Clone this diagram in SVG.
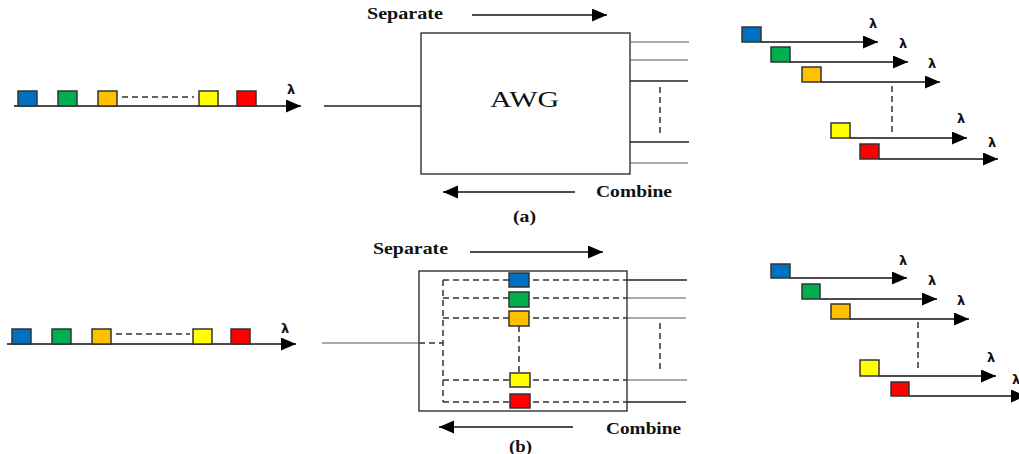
<svg xmlns="http://www.w3.org/2000/svg" width="1019" height="454" viewBox="0 0 1019 454">
<style>
.ln{stroke:#222;stroke-width:1.3;fill:none}
.gl{stroke:#555;stroke-width:1.2;fill:none}
.ds{stroke:#333;stroke-width:1.5;stroke-dasharray:6,4;fill:none}
.ar{stroke:#111;stroke-width:1.3;fill:none;marker-end:url(#ah)}
.box{fill:#fff;stroke:#222;stroke-width:1.3}
.sq{stroke:#333;stroke-width:1.5}
.b{fill:#0070C0}.g{fill:#00B050}.o{fill:#FFC000}.y{fill:#FFFF00}.r{fill:#FF0000}
.lab{font-family:"Liberation Serif",serif;font-weight:bold;font-size:16px;fill:#111}
.lam{font-family:"DejaVu Sans",sans-serif;font-weight:bold;font-size:13px;fill:#111}
.awg{font-family:"Liberation Serif",serif;font-size:23px;fill:#111}
</style>
<defs>
<marker id="ah" markerUnits="userSpaceOnUse" markerWidth="16" markerHeight="14" refX="15" refY="6.5" orient="auto">
<path d="M0,0 L15,6.5 L0,13 Z" fill="#000"/>
</marker>
</defs>

<!-- (a) -->
<g id="a-input-spectrum">
<line class="ar" x1="14" y1="106" x2="301" y2="106"/>
<rect class="sq b" x="18" y="91" width="19" height="15"/>
<rect class="sq g" x="58" y="91" width="19" height="15"/>
<rect class="sq o" x="98" y="91" width="19" height="15"/>
<line class="ds" x1="122" y1="97" x2="194" y2="97"/>
<rect class="sq y" x="199" y="91" width="19" height="15"/>
<rect class="sq r" x="237" y="91" width="19" height="15"/>
<text class="lam" x="291" y="94" text-anchor="middle">λ</text>
</g>

<g id="a-awg">
<rect class="box" x="421" y="33" width="209" height="141"/>
<text class="awg" x="490" y="107" textLength="69" lengthAdjust="spacingAndGlyphs">AWG</text>
</g>

<g id="a-labels">
<text class="lab" x="367" y="19" textLength="76" lengthAdjust="spacingAndGlyphs">Separate</text>
<text class="lab" x="596" y="197" textLength="76" lengthAdjust="spacingAndGlyphs">Combine</text>
<text class="lab" x="513" y="222" textLength="23" lengthAdjust="spacingAndGlyphs">(a)</text>
</g>

<g id="a-output-spectra">
<rect class="sq b" x="742" y="27" width="19" height="15"/>
<rect class="sq g" x="771" y="47" width="19" height="15"/>
<rect class="sq o" x="802" y="67" width="19" height="15"/>
<rect class="sq y" x="831" y="123" width="19" height="15"/>
<rect class="sq r" x="860" y="144" width="19" height="15"/>
<text class="lam" x="873" y="28" text-anchor="middle">λ</text>
<text class="lam" x="903" y="48" text-anchor="middle">λ</text>
<text class="lam" x="932" y="68" text-anchor="middle">λ</text>
<text class="lam" x="961" y="123" text-anchor="middle">λ</text>
<text class="lam" x="992" y="147" text-anchor="middle">λ</text>
</g>

<g id="a-connectors">
<line class="ar" x1="472" y1="15" x2="607" y2="15"/>
<line class="ar" x1="575" y1="192" x2="443" y2="192"/>
<line class="ln" x1="324" y1="106" x2="421" y2="106"/>
<line class="gl" x1="630" y1="42" x2="689" y2="42"/>
<line class="gl" x1="630" y1="60" x2="688" y2="60"/>
<line class="ln" x1="630" y1="81" x2="688" y2="81"/>
<line class="ln" x1="630" y1="142" x2="689" y2="142"/>
<line class="gl" x1="630" y1="163" x2="688" y2="163"/>
<line class="ds" x1="660" y1="87" x2="660" y2="137"/>
<line class="ar" x1="761" y1="42" x2="878" y2="42"/>
<line class="ar" x1="790" y1="62" x2="908" y2="62"/>
<line class="ar" x1="821" y1="82" x2="940" y2="82"/>
<line class="ar" x1="850" y1="138" x2="967" y2="138"/>
<line class="ar" x1="879" y1="159" x2="998" y2="159"/>
<line class="ds" x1="892" y1="86" x2="892" y2="135"/>
</g>

<!-- (b) -->
<g id="b-input-spectrum">
<line class="ar" x1="7" y1="344" x2="296" y2="344"/>
<rect class="sq b" x="12" y="329" width="19" height="15"/>
<rect class="sq g" x="52" y="329" width="19" height="15"/>
<rect class="sq o" x="92" y="329" width="19" height="15"/>
<line class="ds" x1="116" y1="334" x2="190" y2="334"/>
<rect class="sq y" x="193" y="329" width="19" height="15"/>
<rect class="sq r" x="231" y="329" width="19" height="15"/>
<text class="lam" x="285" y="333" text-anchor="middle">λ</text>
</g>

<g id="b-awg">
<rect class="box" x="419" y="271" width="208" height="140"/>
</g>

<g id="b-labels">
<text class="lab" x="373" y="254" textLength="75" lengthAdjust="spacingAndGlyphs">Separate</text>
<text class="lab" x="606" y="434" textLength="75" lengthAdjust="spacingAndGlyphs">Combine</text>
<text class="lab" x="509" y="452" textLength="23" lengthAdjust="spacingAndGlyphs">(b)</text>
</g>

<g id="b-connectors">
<line class="ar" x1="470" y1="252" x2="603" y2="252"/>
<line class="ar" x1="573" y1="427" x2="439" y2="427"/>
<line class="gl" x1="322" y1="343" x2="419" y2="343"/>
<line class="ds" x1="419" y1="343" x2="443" y2="343"/>
<line class="ds" x1="443" y1="280" x2="443" y2="402"/>
<line class="ds" x1="443" y1="280" x2="627" y2="280"/>
<line class="ds" x1="443" y1="298" x2="627" y2="298"/>
<line class="ds" x1="443" y1="318" x2="627" y2="318"/>
<line class="ds" x1="443" y1="380" x2="627" y2="380"/>
<line class="ds" x1="443" y1="402" x2="627" y2="402"/>
<line class="ds" x1="519" y1="326" x2="519" y2="373"/>
<line class="ln" x1="627" y1="280" x2="687" y2="280"/>
<line class="gl" x1="627" y1="298" x2="686" y2="298"/>
<line class="gl" x1="627" y1="318" x2="686" y2="318"/>
<line class="gl" x1="627" y1="380" x2="687" y2="380"/>
<line class="ln" x1="627" y1="402" x2="686" y2="402"/>
<line class="ds" x1="660" y1="323" x2="660" y2="373"/>
<line class="ar" x1="790" y1="278" x2="907" y2="278"/>
<line class="ar" x1="820" y1="299" x2="937" y2="299"/>
<line class="ar" x1="850" y1="319" x2="969" y2="319"/>
<line class="ar" x1="879" y1="376" x2="996" y2="376"/>
<line class="ar" x1="909" y1="396" x2="1026" y2="396"/>
<line class="ds" x1="918" y1="322" x2="918" y2="372"/>
</g>

<g id="b-filters">
<rect class="sq b" x="509" y="273" width="20" height="14"/>
<rect class="sq g" x="509" y="292" width="20" height="15"/>
<rect class="sq o" x="509" y="311" width="20" height="15"/>
<rect class="sq y" x="510" y="373" width="20" height="14"/>
<rect class="sq r" x="510" y="394" width="20" height="14"/>
</g>

<g id="b-output-spectra">
<rect class="sq b" x="771" y="264" width="19" height="14"/>
<rect class="sq g" x="802" y="284" width="18" height="15"/>
<rect class="sq o" x="831" y="304" width="19" height="15"/>
<rect class="sq y" x="860" y="360" width="19" height="16"/>
<rect class="sq r" x="891" y="382" width="18" height="14"/>
<text class="lam" x="903" y="265" text-anchor="middle">λ</text>
<text class="lam" x="932" y="285" text-anchor="middle">λ</text>
<text class="lam" x="961" y="305" text-anchor="middle">λ</text>
<text class="lam" x="991" y="362" text-anchor="middle">λ</text>
<text class="lam" x="1016" y="384" text-anchor="middle">λ</text>
</g>
</svg>
